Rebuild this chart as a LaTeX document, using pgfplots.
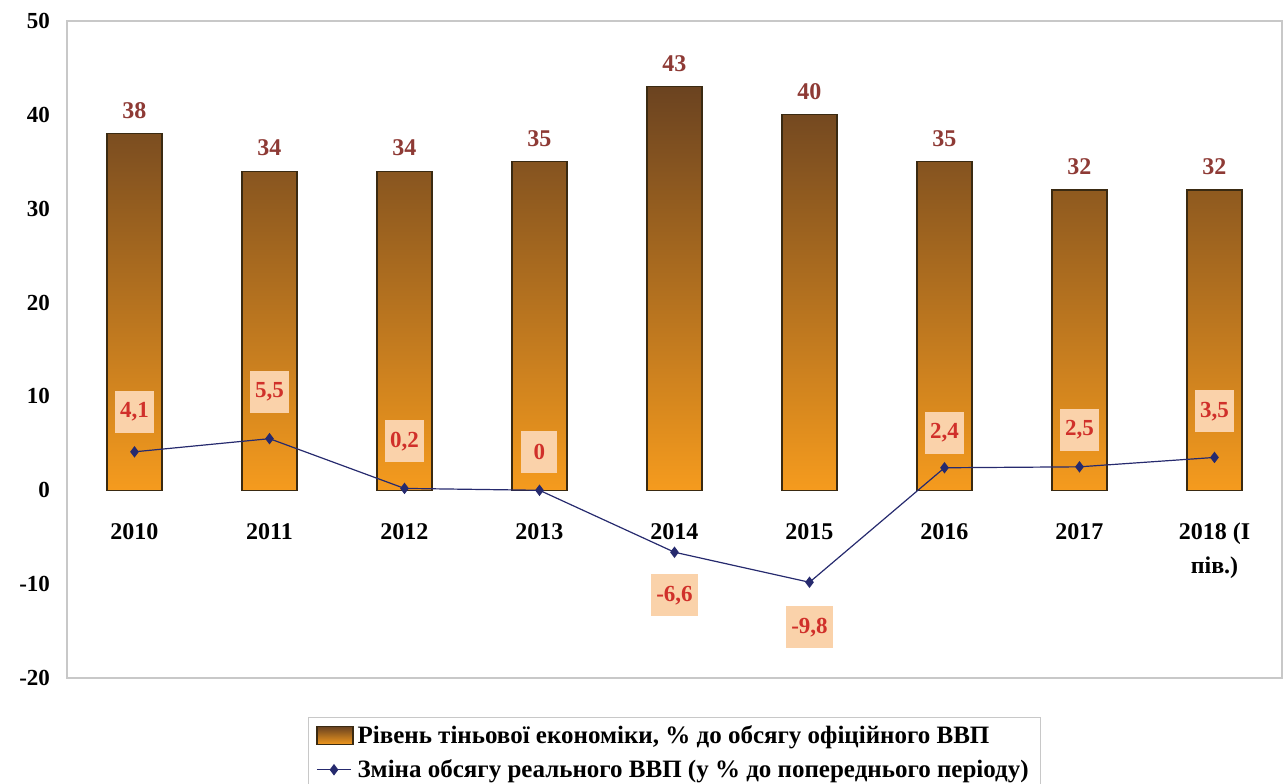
\documentclass[border=0pt]{standalone}
\usepackage{fontspec}
\setmainfont{Liberation Serif}
\usepackage{pgfplots}
\usepackage{pgfplotstable}
\pgfplotsset{compat=1.18}

\definecolor{barTop}{HTML}{6B4320}
\definecolor{barBot}{HTML}{F59B1E}
\definecolor{barEdge}{HTML}{3A2A12}
\definecolor{barLab}{HTML}{8E3A35}
\definecolor{lineCol}{HTML}{262A6E}
\definecolor{lineLab}{HTML}{D0302A}
\definecolor{labFill}{HTML}{FAD2AA}
\definecolor{frameGray}{HTML}{C8C8C8}

\pgfplotsset{barlegend/.style={legend image code/.code={\draw[##1] (0pt,-4.5pt) rectangle (18pt,4.5pt);}}}

\pgfplotstableread{
x bar
0 38
1 34
2 34
3 35
4 43
5 40
6 35
7 32
8 32
}\shadow

\pgfplotstableread{
x y lab dy
0 4.1 4,1 20
1 5.5 5,5 23.5
2 0.2 0,2 23.5
3 0 0 19
4 -6.6 -6,6 -21.5
5 -9.8 -9,8 -22.5
6 2.4 2,4 17.5
7 2.5 2,5 18.5
8 3.5 3,5 23
}\gdp

\begin{document}
\begin{tikzpicture}
\useasboundingbox (-33.5pt,-52.5pt) rectangle (609.5pt,339pt);
\begin{axis}[
    scale only axis,
    width=607.5pt, height=328.5pt,
    xmin=-0.5, xmax=8.5,
    ymin=-20, ymax=50,
    ytick={-20,-10,...,50},
    xtick={0,...,8},
    xticklabels={2010,2011,2012,2013,2014,2015,2016,2017,{2018 (I\\пів.)}},
    axis line style={frameGray, line width=1pt},
    major tick length=0pt,
    /pgf/number format/assume math mode=true,
    tick label style={font=\fontsize{11.5}{13}\selectfont\bfseries},
    xticklabel style={font=\fontsize{12}{17}\selectfont\bfseries, align=center, anchor=north, yshift=81pt},
    yticklabel style={xshift=-5pt},
    legend style={at={(0.5,0)}, anchor=north, yshift=-19.5pt, draw=frameGray,
        font=\fontsize{12.5}{14}\selectfont\bfseries, legend cell align=left,
        row sep=2.5pt, inner xsep=4pt},
]
\addplot[ybar, bar width=27.5pt, draw=barEdge, line width=0.6pt,
    top color=barTop, bottom color=barBot,
    nodes near coords,
    nodes near coords style={text=barLab, font=\fontsize{12}{14}\selectfont\bfseries, yshift=4pt},
    barlegend]
    table[x=x, y=bar] {\shadow};
\addlegendentry{Рівень тіньової економіки, \% до обсягу офіційного ВВП}

\addplot[sharp plot, color=lineCol, line width=0.6pt, mark=diamond*, mark size=2.4pt,
    point meta=explicit symbolic,
    visualization depends on={\thisrow{dy}\as\dy},
    nodes near coords,
    nodes near coords style={anchor=center, yshift=\dy pt, fill=labFill, text=lineLab,
        font=\fontsize{11.5}{13}\selectfont\bfseries, minimum height=21pt, minimum width=18pt, inner xsep=2.5pt}]
    table[x=x, y=y, meta=lab] {\gdp};
\addlegendentry{Зміна обсягу реального ВВП (у \% до попереднього періоду)}
\end{axis}
\end{tikzpicture}
\end{document}
